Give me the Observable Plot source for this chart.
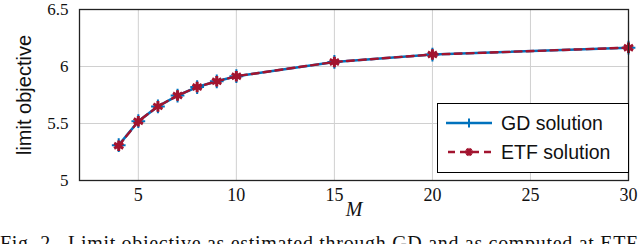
<!DOCTYPE html>
<html>
<head>
<meta charset="utf-8">
<script src="https://cdn.jsdelivr.net/npm/d3@7"></script>
<script src="https://cdn.jsdelivr.net/npm/@observablehq/plot@0.6"></script>
<style>
  html, body { margin: 0; padding: 0; background: #fff; overflow: hidden; }
  #wrap { position: relative; width: 640px; height: 244px; overflow: hidden; }
  #legend { position: absolute; left: 437px; top: 103px; width: 190px; height: 68px;
    border: 1px solid #000; background: #fff; font-family: "Liberation Sans", Arial, sans-serif; font-size: 19.5px; color: #111; }
  .row { position: absolute; left: 8px; height: 26px; display: flex; align-items: center; }
  .row svg { margin-right: 9px; }
  #caption { position: absolute; left: 0; top: 233px; white-space: nowrap; line-height: 1;
    font-family: "Liberation Serif", "DejaVu Serif", serif; font-size: 20px; color: #111; letter-spacing: 0.7px; }
</style>
</head>
<body>
<div id="wrap">
  <div id="chart"></div>
  <div id="legend">
    <div class="row" style="top:6px">
      <svg width="46" height="12"><line x1="0" y1="6" x2="46" y2="6" stroke="#0072BD" stroke-width="2.5"/><path d="M23,1.5V10.5M18.5,6H27.5" stroke="#0072BD" stroke-width="2"/></svg>
      <span>GD solution</span>
    </div>
    <div class="row" style="top:35px">
      <svg width="46" height="12"><line x1="0" y1="6" x2="46" y2="6" stroke="#A2142F" stroke-width="2.5" stroke-dasharray="7,5" stroke-dashoffset="-2"/><g transform="translate(23,6)" stroke="#A2142F" stroke-width="2.8"><path d="M-4,0H4M-2,-3.5L2,3.5M2,-3.5L-2,3.5"/></g></svg>
      <span>ETF solution</span>
    </div>
  </div>
  <div id="caption">Fig. 2.&nbsp; Limit objective as estimated through GD and as computed at ETF</div>
</div>
<script>
const M = [4, 5, 6, 7, 8, 9, 10, 15, 20, 30];
const gdValues = [5.31, 5.52, 5.65, 5.745, 5.82, 5.87, 5.915, 6.04, 6.105, 6.165];
const etfValues = [5.305, 5.52, 5.65, 5.745, 5.82, 5.87, 5.915, 6.04, 6.105, 6.165];
const xTicks = [5, 10, 15, 20, 25, 30];
const yTicks = [5, 5.5, 6, 6.5];

const gd = M.map((m, i) => ({M: m, v: gdValues[i]}));
const etf = M.map((m, i) => ({M: m, v: etfValues[i]}));

const chart = Plot.plot({
  width: 640,
  height: 224,
  marginLeft: 79,
  marginRight: 12,
  marginTop: 9,
  marginBottom: 44,
  style: { fontFamily: "'Liberation Serif', 'DejaVu Serif', serif", fontSize: "18px", color: "#111", background: "#fff", overflow: "visible" },
  x: { domain: [2, 30], ticks: xTicks, tickSize: 0, tickPadding: 8, label: null },
  y: { domain: [5, 6.5], ticks: yTicks, tickSize: 0, tickPadding: 11, label: null, tickFormat: d => String(d) },
  marks: [
    Plot.gridX(xTicks, { stroke: "#d0d0d0", strokeOpacity: 1, strokeWidth: 1 }),
    Plot.gridY(yTicks, { stroke: "#d0d0d0", strokeOpacity: 1, strokeWidth: 1 }),
    Plot.axisX({ ticks: xTicks, tickSize: 0, tickPadding: 8, fontSize: 18 }),
    Plot.axisY({ ticks: yTicks, tickSize: 0, tickPadding: 11, fontSize: 17, tickFormat: d => String(d) }),
    Plot.line(gd, { x: "M", y: "v", stroke: "#0072BD", strokeWidth: 2.6 }),
    Plot.dot(gd, { x: "M", y: "v", symbol: "plus", r: 4.5, stroke: "#0072BD", strokeWidth: 2 }),
    Plot.line(etf, { x: "M", y: "v", stroke: "#A2142F", strokeWidth: 2.4, strokeDasharray: "7,5" }),
    Plot.dot(etf, { x: "M", y: "v", symbol: "asterisk", r: 5, stroke: "#A2142F", strokeWidth: 3 }),
    Plot.frame({ stroke: "#222", strokeWidth: 1.3 }),
    Plot.text(["limit objective"], { frameAnchor: "left", textAnchor: "middle", dx: -55, rotate: -90, fontFamily: "'Liberation Sans', Arial, sans-serif", fontSize: 20, fill: "#111" }),
    Plot.text(["M"], { frameAnchor: "bottom", dy: 35, fontStyle: "italic", fontSize: 20, fill: "#111" })
  ]
});
document.getElementById("chart").appendChild(chart);
</script>
</body>
</html>
